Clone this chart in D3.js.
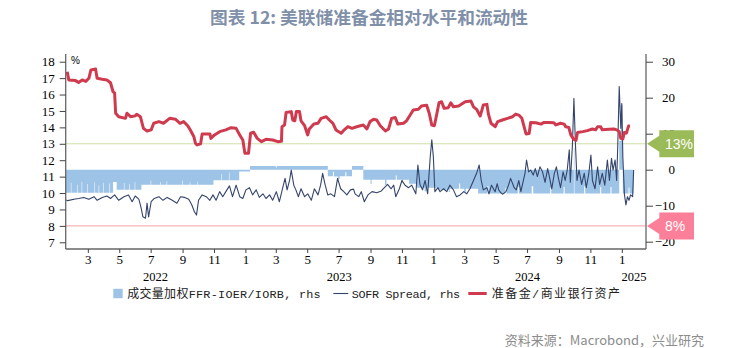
<!DOCTYPE html>
<html><head><meta charset="utf-8">
<script src="https://cdn.jsdelivr.net/npm/d3@7"></script>
<style>
html,body{margin:0;padding:0;background:#fff;}
svg{display:block;}
</style></head><body>
<svg id="chart" width="742" height="348"></svg>
<script>
// ---------------- DATA ----------------
const titleText = "图表 12: 美联储准备金相对水平和流动性";
const sourceText = "资料来源：Macrobond，兴业研究";
const unitLabel = "%";
const leftTicks = [7,8,9,10,11,12,13,14,15,16,17,18];
const rightTicks = [-20,-10,0,10,20,30];
const xDomain = ["2022-01-17","2025-02-17"];
const yearLabels = ["2022","2023","2024","2025"];
const seriesNames = ["成交量加权FFR-IOER/IORB, rhs","SOFR Spread, rhs","准备金/商业银行资产"];
const refLevels = [13, 8];
const refLabels = ["13%","8%"];

// 准备金/商业银行资产 (%), left axis
const reserveRatio = [
["2022-01-20",17.39],["2022-01-23",16.89],["2022-02-05",16.85],["2022-02-11",16.74],["2022-02-18",16.89],
["2022-02-25",16.80],["2022-03-03",16.99],["2022-03-07",17.50],["2022-03-16",17.56],["2022-03-19",16.99],
["2022-03-29",16.93],["2022-04-07",16.89],["2022-04-14",16.72],["2022-04-19",16.17],["2022-04-22",16.10],
["2022-04-24",14.86],["2022-04-30",14.65],["2022-05-13",14.55],["2022-05-16",14.86],["2022-05-23",14.65],
["2022-06-01",14.70],["2022-06-04",14.80],["2022-06-11",14.65],["2022-06-17",13.94],["2022-06-24",13.78],
["2022-07-02",13.85],["2022-07-07",14.25],["2022-07-17",14.35],["2022-07-26",14.25],["2022-08-07",14.55],
["2022-08-18",14.50],["2022-08-27",14.25],["2022-09-03",14.35],["2022-09-11",14.10],["2022-09-16",13.84],
["2022-09-23",13.43],["2022-09-26",13.03],["2022-09-29",12.93],["2022-10-06",13.00],["2022-10-09",13.60],
["2022-10-24",13.60],["2022-10-26",13.33],["2022-11-02",13.54],["2022-11-12",13.74],["2022-11-24",13.85],
["2022-12-04",13.98],["2022-12-14",13.94],["2022-12-21",13.54],["2022-12-27",13.23],["2022-12-31",12.42],
["2023-01-07",12.42],["2023-01-11",13.64],["2023-01-17",13.70],["2023-01-24",13.33],["2023-02-01",13.13],
["2023-02-10",13.27],["2023-02-23",13.23],["2023-03-05",13.13],["2023-03-12",13.15],["2023-03-13",14.04],
["2023-03-18",14.14],["2023-03-21",14.90],["2023-03-31",14.96],["2023-04-03",14.45],["2023-04-07",14.40],
["2023-04-10",14.96],["2023-04-16",14.96],["2023-04-19",14.40],["2023-04-26",14.10],["2023-05-02",13.54],
["2023-05-05",13.90],["2023-05-14",14.20],["2023-05-22",14.25],["2023-05-28",14.55],["2023-06-07",14.65],
["2023-06-13",14.45],["2023-06-20",14.25],["2023-06-26",13.84],["2023-07-06",13.64],["2023-07-12",13.85],
["2023-07-19",14.04],["2023-07-27",13.94],["2023-08-05",14.04],["2023-08-18",14.14],["2023-08-25",13.90],
["2023-08-31",14.35],["2023-09-07",14.49],["2023-09-13",14.45],["2023-09-20",14.10],["2023-09-30",13.78],
["2023-10-06",13.90],["2023-10-12",14.55],["2023-10-19",14.60],["2023-10-24",14.20],["2023-11-04",14.25],
["2023-11-10",14.40],["2023-11-17",14.75],["2023-11-23",15.06],["2023-12-03",15.10],["2023-12-09",15.30],
["2023-12-19",15.35],["2023-12-24",14.86],["2023-12-29",14.14],["2024-01-03",14.10],["2024-01-08",14.86],
["2024-01-12",15.50],["2024-01-17",15.56],["2024-01-22",15.16],["2024-01-30",15.20],["2024-02-04",15.50],
["2024-02-09",15.25],["2024-02-19",15.30],["2024-03-03",15.56],["2024-03-14",15.60],["2024-03-19",15.25],
["2024-03-25",15.10],["2024-04-01",14.69],["2024-04-07",15.36],["2024-04-14",15.40],["2024-04-17",14.80],
["2024-04-22",14.25],["2024-04-30",14.04],["2024-05-05",14.35],["2024-05-14",14.45],["2024-05-24",14.55],
["2024-06-03",14.65],["2024-06-09",14.81],["2024-06-15",14.75],["2024-06-21",14.55],["2024-06-23",14.30],
["2024-06-29",13.60],["2024-07-05",13.62],["2024-07-08",14.30],["2024-07-18",14.28],["2024-07-28",14.20],
["2024-08-03",14.30],["2024-08-13",14.30],["2024-08-22",14.28],["2024-08-26",14.15],["2024-09-04",14.25],
["2024-09-11",14.20],["2024-09-14",14.04],["2024-09-20",14.00],["2024-09-24",13.54],["2024-09-29",13.30],
["2024-10-04",13.20],["2024-10-07",13.69],["2024-10-17",13.74],["2024-10-26",13.80],["2024-11-05",13.90],
["2024-11-11",13.85],["2024-11-15",14.04],["2024-11-21",14.04],["2024-11-24",13.85],["2024-12-07",13.88],
["2024-12-17",13.90],["2024-12-22",13.85],["2024-12-27",13.74],["2024-12-30",13.33],["2025-01-03",13.30],
["2025-01-06",13.69],["2025-01-10",13.65],["2025-01-14",14.08],["2025-01-17",14.08]
];

// SOFR Spread (bp), right axis
const sofrSpread = [
["2022-01-18",-8.4],["2022-01-21",-8.6],["2022-02-02",-8.2],["2022-02-11",-8.0],["2022-02-21",-7.7],["2022-03-03",-8.2],
["2022-03-13",-7.5],["2022-03-19",-8.5],["2022-03-29",-7.7],["2022-04-07",-7.3],["2022-04-14",-8.0],["2022-04-22",-7.0],
["2022-04-30",-8.5],["2022-05-10",-7.5],["2022-05-19",-7.0],["2022-05-26",-8.9],["2022-06-01",-7.3],["2022-06-08",-8.2],
["2022-06-12",-10.3],["2022-06-16",-13.1],["2022-06-21",-13.5],["2022-06-24",-9.3],["2022-06-27",-13.1],["2022-07-02",-8.9],
["2022-07-08",-8.0],["2022-07-17",-7.5],["2022-07-25",-8.5],["2022-08-02",-7.7],["2022-08-12",-8.5],["2022-08-21",-9.3],
["2022-08-28",-7.5],["2022-09-05",-7.7],["2022-09-13",-8.2],["2022-09-19",-9.8],["2022-09-24",-11.7],["2022-09-28",-12.6],
["2022-10-02",-8.5],["2022-10-09",-7.0],["2022-10-17",-7.5],["2022-10-24",-8.5],["2022-10-30",-7.0],["2022-11-05",-8.5],
["2022-11-12",-6.1],["2022-11-18",-7.5],["2022-11-24",-6.1],["2022-12-01",-4.5],["2022-12-07",-7.5],["2022-12-14",-4.3],
["2022-12-21",-7.5],["2022-12-27",-8.0],["2023-01-02",-5.6],["2023-01-09",-5.0],["2023-01-15",-7.0],["2023-01-22",-5.6],
["2023-01-28",-7.7],["2023-02-04",-6.7],["2023-02-10",-8.0],["2023-02-17",-7.0],["2023-02-23",-8.5],["2023-03-02",-6.1],
["2023-03-08",-8.9],["2023-03-15",-4.7],["2023-03-19",-2.4],["2023-03-23",-5.6],["2023-03-28",-2.8],["2023-03-31",-0.1],
["2023-04-05",-4.3],["2023-04-09",-5.6],["2023-04-14",-7.5],["2023-04-19",-5.3],["2023-04-26",-7.5],["2023-05-02",-6.7],
["2023-05-09",-8.5],["2023-05-15",-5.3],["2023-05-22",-7.0],["2023-05-27",-4.3],["2023-05-31",-1.0],["2023-06-05",-4.3],
["2023-06-10",-7.0],["2023-06-16",-6.7],["2023-06-23",-7.5],["2023-06-29",-2.4],["2023-07-05",-5.3],["2023-07-11",-6.1],
["2023-07-17",-7.0],["2023-07-24",-5.6],["2023-07-30",-5.4],["2023-08-02",-6.7],["2023-08-09",-7.5],["2023-08-14",-6.1],
["2023-08-20",-8.9],["2023-08-27",-7.0],["2023-09-04",-6.1],["2023-09-13",-6.4],["2023-09-22",-5.9],["2023-09-28",-5.0],
["2023-10-04",-4.1],["2023-10-11",-5.3],["2023-10-16",-4.3],["2023-10-20",-7.5],["2023-10-27",-5.3],["2023-11-01",-3.0],
["2023-11-07",-4.3],["2023-11-14",-5.0],["2023-11-20",-4.3],["2023-11-28",-6.7],["2023-12-02",1.3],["2023-12-06",-4.1],
["2023-12-11",-5.6],["2023-12-16",-3.0],["2023-12-21",-6.7],["2023-12-26",3.6],["2023-12-29",8.3],["2024-01-01",3.6],
["2024-01-04",-6.1],["2024-01-10",-5.0],["2024-01-14",-6.1],["2024-01-21",-5.3],["2024-01-27",-6.1],["2024-02-02",-4.3],
["2024-02-09",-5.6],["2024-02-15",-7.5],["2024-02-22",-7.0],["2024-02-29",-6.1],["2024-03-06",-6.7],["2024-03-12",-5.3],
["2024-03-19",-3.0],["2024-03-25",-1.0],["2024-03-30",1.3],["2024-04-03",-3.0],["2024-04-07",-5.6],["2024-04-14",-5.0],
["2024-04-18",-6.7],["2024-04-23",-4.3],["2024-04-30",-6.1],["2024-05-04",-3.9],["2024-05-07",-5.6],["2024-05-11",-6.4],
["2024-05-15",-6.8],["2024-05-21",-6.1],["2024-05-26",-4.3],["2024-05-30",-2.4],["2024-06-06",-5.0],["2024-06-10",-5.6],
["2024-06-15",-3.0],["2024-06-19",-6.1],["2024-06-23",-3.5],["2024-06-27",-1.0],["2024-06-30",2.7],["2024-07-04",-0.6],
["2024-07-08",-0.1],["2024-07-13",-1.5],["2024-07-17",0.3],["2024-07-21",-1.9],["2024-07-26",0.8],["2024-07-31",-0.6],
["2024-08-05",-3.5],["2024-08-10",0.3],["2024-08-14",-2.4],["2024-08-18",-5.3],["2024-08-23",-1.0],["2024-08-27",0.8],
["2024-08-31",-2.4],["2024-09-04",-5.0],["2024-09-09",-0.6],["2024-09-13",-3.0],["2024-09-17",-0.1],["2024-09-21",5.5],
["2024-09-23",-3.5],["2024-09-27",6.5],["2024-09-30",19.8],["2024-10-03",7.0],["2024-10-06",-3.0],["2024-10-10",-0.1],
["2024-10-15",-4.1],["2024-10-20",-1.0],["2024-10-24",-5.0],["2024-10-29",-1.0],["2024-11-02",4.1],["2024-11-05",-3.0],
["2024-11-10",-5.3],["2024-11-15",0.8],["2024-11-19",-4.1],["2024-11-24",-1.0],["2024-11-29",-4.3],["2024-12-04",2.7],
["2024-12-08",-3.0],["2024-12-12",3.2],["2024-12-15",-0.1],["2024-12-19",2.7],["2024-12-22",-3.0],["2024-12-24",5.8],
["2024-12-27",23.1],["2024-12-30",11.5],["2025-01-01",18.4],["2025-01-03",3.6],["2025-01-06",-6.7],["2025-01-09",-9.8],
["2025-01-12",-7.5],["2025-01-15",-8.5],["2025-01-18",-7.0],["2025-01-22",-7.5],["2025-01-24",-0.1]
];

// 成交量加权FFR-IOER/IORB (bp), right axis
const ffrSpread = [
["2022-01-17",-6.4],["2022-01-27",-3.6],["2022-01-28",-6.4],["2022-02-08",-4.2],["2022-02-09",-6.4],["2022-02-17",-3.4],
["2022-02-18",-6.4],["2022-02-28",-4.0],["2022-03-01",-6.4],["2022-03-14",-3.5],["2022-03-15",-6.4],["2022-03-22",-4.4],
["2022-03-23",-6.4],["2022-03-31",-3.6],["2022-04-01",-6.4],["2022-04-12",-3.8],["2022-04-13",-6.4],["2022-04-19",-3.4],
["2022-04-26",-5.6],["2022-05-10",-3.6],["2022-05-11",-5.6],["2022-05-20",-4.0],["2022-05-21",-5.6],["2022-05-31",-3.4],
["2022-06-01",-5.6],["2022-06-13",-4.2],["2022-07-01",-3.0],["2022-07-02",-4.2],["2022-07-20",-3.4],["2022-07-21",-4.2],
["2022-08-01",-3.2],["2022-08-02",-4.2],["2022-08-31",-3.0],["2022-09-01",-4.2],["2022-09-15",-3.5],["2022-09-16",-4.2],
["2022-09-30",-3.3],["2022-10-01",-4.2],["2022-10-31",-2.9],["2022-11-15",-1.2],["2022-11-16",-2.9],["2022-11-30",-0.8],
["2022-12-01",-2.9],["2022-12-20",-0.5],["2023-01-10",1.0],["2023-03-01",0.6],["2023-03-03",1.0],["2023-06-10",-1.8],
["2023-06-20",-0.6],["2023-06-22",-1.9],["2023-06-30",-2.6],["2023-07-03",-1.8],["2023-07-14",-0.7],["2023-07-16",-1.8],
["2023-07-27",1.0],["2023-08-18",-2.8],["2023-09-01",-4.0],["2023-09-03",-2.8],["2023-09-29",-4.2],["2023-10-02",-2.8],
["2023-10-20",-1.6],["2023-10-22",-2.8],["2023-11-01",-3.6],["2023-11-03",-2.8],["2023-11-15",-3.9],["2023-11-30",-5.0],
["2023-12-15",-6.0],["2023-12-18",-5.0],["2024-01-10",-5.6],["2024-01-31",-6.2],["2024-02-02",-5.3],["2024-02-20",-3.8],
["2024-02-22",-5.3],["2024-03-01",-6.2],["2024-03-04",-5.3],["2024-03-28",-6.6],["2024-04-15",-4.5],["2024-04-17",-6.6],
["2024-05-20",-5.0],["2024-05-22",-6.6],["2024-06-13",-4.8],["2024-06-15",-6.6],["2024-07-10",-4.6],["2024-07-13",-6.6],
["2024-08-15",-5.0],["2024-08-17",-6.6],["2024-09-10",-4.8],["2024-09-12",-6.6],["2024-09-30",6.0],["2024-10-01",-6.6],
["2024-10-20",-4.6],["2024-10-22",-6.6],["2024-11-20",-4.8],["2024-11-22",-6.6],["2024-12-10",-4.8],["2024-12-12",-6.6],
["2024-12-27",8.0],["2024-12-30",18.0],["2025-01-02",12.0],["2025-01-03",-6.6],["2025-01-14",-5.0],["2025-01-16",-6.6],
["2025-01-24",-6.6]
];

// ---------------- CHART ----------------
const parse = d3.utcParse("%Y-%m-%d");
const toObj = a => a.map(d => ({date: parse(d[0]), v: d[1]}));
const red = toObj(reserveRatio), navy = toObj(sofrSpread), blue = toObj(ffrSpread);

const svg = d3.select("#chart");
const L = 65.7, R = 646, T = 54, B = 249;
const x = d3.scaleUtc().domain(xDomain.map(parse)).range([L, R]);
const yL = d3.scaleLinear().domain([6.592, 18.469]).range([B, T]);
const yR = d3.scaleLinear().domain([-22.03, 32.14]).range([B, T]);

const CJK = "'Noto Sans CJK SC','Noto Sans',sans-serif";
const SERIF = "'Liberation Serif','DejaVu Serif',serif";

// title
svg.append("text").attr("x", 369).attr("y", 24).attr("text-anchor", "middle")
  .attr("font-family", CJK).attr("font-weight", "bold").attr("font-size", 17.5)
  .attr("fill", "#8090a9").attr("textLength", 318).attr("lengthAdjust","spacingAndGlyphs")
  .text(titleText);

// reference lines
const refColors = ["#cfe0a6", "#f5a3a6"];
refLevels.forEach((lv, i) => {
  svg.append("line").attr("x1", L).attr("x2", R).attr("y1", yL(lv)).attr("y2", yL(lv))
    .attr("stroke", refColors[i]).attr("stroke-width", 1);
});

// blue area
const area = d3.area().curve(d3.curveStepAfter)
  .x(d => x(d.date)).y0(yR(0)).y1(d => yR(d.v));
svg.append("path").datum(blue).attr("d", area).attr("fill", "#9dc3e6");

// navy line
const lineR = d3.line().x(d => x(d.date)).y(d => yR(d.v));
svg.append("path").datum(navy).attr("d", lineR).attr("fill", "none")
  .attr("stroke", "#34446a").attr("stroke-width", 1.1).attr("stroke-linejoin","round");

// red line
const lineL = d3.line().x(d => x(d.date)).y(d => yL(d.v));
svg.append("path").datum(red).attr("d", lineL).attr("fill", "none")
  .attr("stroke", "#cf3a4e").attr("stroke-width", 3).attr("stroke-linejoin","round");

// axes
const axisColor = "#666";
const gl = svg.append("g").attr("transform", `translate(${L},0)`)
  .call(d3.axisLeft(yL).tickValues(leftTicks).tickSize(6).tickPadding(5).tickSizeOuter(0));
gl.select(".domain").attr("d", `M0,${T}V${B}`);
const gr = svg.append("g").attr("transform", `translate(${R},0)`)
  .call(d3.axisRight(yR).tickValues(rightTicks).tickSize(7).tickPadding(22).tickSizeOuter(0));
gr.select(".domain").attr("d", `M0,${T}V${B}`);
gr.selectAll(".tick text").attr("text-anchor", "end").attr("x", 29);
const monthTicks = x.ticks(d3.utcMonth.every(2));
const gx = svg.append("g").attr("transform", `translate(0,${B})`)
  .call(d3.axisBottom(x).tickValues(monthTicks).tickSize(4).tickPadding(2)
    .tickFormat(d => d3.utcFormat("%-m")(d)).tickSizeOuter(0));
gx.select(".domain").attr("d", `M${L},0H${R}`);
[gl, gr, gx].forEach(g => {
  g.select(".domain").attr("stroke", axisColor).attr("stroke-width", 1.3);
  g.selectAll(".tick line").attr("stroke", "#444");
  g.selectAll(".tick text").attr("font-family", SERIF).attr("font-size", 13).attr("fill", "#000");
});

// year labels centred on visible part of each year
yearLabels.forEach(yStr => {
  const y0 = parse(yStr + "-01-01"), y1 = parse((+yStr + 1) + "-01-01");
  const a = Math.max(x(y0), L), b = Math.min(x(y1), R);
  svg.append("text").attr("x", (a + b) / 2).attr("y", 280.5).attr("text-anchor", "middle")
    .attr("font-family", SERIF).attr("font-size", 12.5).text(yStr);
});

// unit label
svg.append("text").attr("x", 71).attr("y", 63.5).attr("font-family", "'Liberation Sans',sans-serif")
  .attr("font-size", 10).text(unitLabel);

// badges
const badgeColors = ["#9bbb59", "#fb7f99"];
refLevels.forEach((lv, i) => {
  const yy = yL(lv);
  const pts = [[647, yy], [659.3, yy - 8], [659.3, yy - 13.5], [694, yy - 13.5], [694, yy + 13.5], [659.3, yy + 13.5], [659.3, yy + 8]];
  svg.append("polygon").attr("points", pts.map(p => p.join(",")).join(" ")).attr("fill", badgeColors[i]);
  svg.append("text").attr("x", 665).attr("y", yy + 5).attr("font-family", "'Liberation Sans',sans-serif")
    .attr("font-size", 14).attr("fill", "#fff").text(refLabels[i]);
});

// legend
function mixedText(xp, yp, str, len) {
  const t = svg.append("text").attr("x", xp).attr("y", yp).attr("fill", "#222")
    .attr("textLength", len).attr("lengthAdjust", "spacing");
  const runs = str.match(/[\u3000-\u9fff\uff00-\uffef]+|[^\u3000-\u9fff\uff00-\uffef]+/g);
  runs.forEach(r => {
    const cjk = /[\u3000-\u9fff\uff00-\uffef]/.test(r);
    t.append("tspan").attr("font-family", cjk ? CJK : "'Liberation Mono',monospace")
      .attr("font-size", cjk ? 12 : 11.8).text(r);
  });
}
const ly = 293.5;
svg.append("rect").attr("x", 113.3).attr("y", ly - 4.7).attr("width", 9.4).attr("height", 9.4).attr("fill", "#9dc3e6");
mixedText(127.3, ly + 4.2, seriesNames[0], 193.4);
svg.append("line").attr("x1", 333.3).attr("x2", 348.3).attr("y1", ly).attr("y2", ly).attr("stroke", "#34446a").attr("stroke-width", 1.1);
mixedText(351.7, ly + 4.2, seriesNames[1], 108.3);
svg.append("line").attr("x1", 468.3).attr("x2", 486.7).attr("y1", ly).attr("y2", ly).attr("stroke", "#cf3a4e").attr("stroke-width", 3);
mixedText(491.7, ly + 4.2, seriesNames[2], 128.3);

// source
svg.append("text").attr("x", 704).attr("y", 345).attr("text-anchor", "end")
  .attr("font-family", CJK).attr("font-size", 13).attr("fill", "#8c8c8c").text(sourceText);
</script>
</body></html>
